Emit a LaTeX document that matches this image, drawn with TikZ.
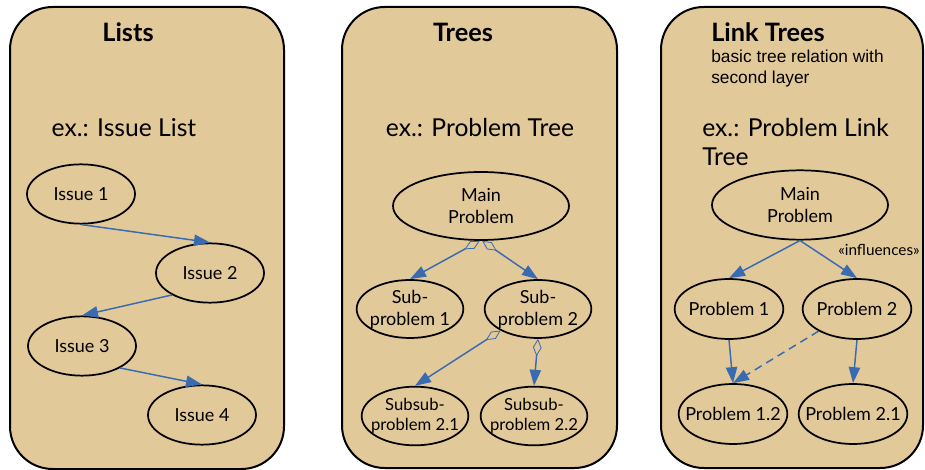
\documentclass[tikz,border=0pt]{standalone}
\usepackage{fontspec}
\setmainfont{Lato}
\newfontfamily\notefont{Liberation Sans}
\usetikzlibrary{shapes.geometric,arrows.meta}
\definecolor{paneltan}{RGB}{226,201,153}
\definecolor{linkblue}{RGB}{58,107,176}
\tikzset{
  panel/.style={draw=black, line width=1.5pt, fill=paneltan, rounded corners=32pt, inner sep=0pt},
  elli/.style={ellipse, draw=black, line width=1.3pt, inner sep=0pt},
  lbl/.style={align=center, inner sep=0pt, font=\fontsize{13.5}{16.5}\selectfont},
  lblsmall/.style={align=center, inner sep=0pt, font=\fontsize{12.5}{15}\selectfont},
  conn/.style={draw=linkblue, line width=1.1pt, -{Triangle[length=12pt,width=8.5pt]}},
  agg/.style={draw=linkblue, line width=1.1pt, {Diamond[open,length=13pt,width=6.5pt,line width=0.6pt]}-{Triangle[length=12pt,width=8.5pt]}},
  title/.style={inner sep=0pt, font=\fontsize{19}{22}\selectfont\bfseries},
  example/.style={inner sep=0pt, align=left, font=\fontsize{18.5}{21.75}\selectfont},
  note/.style={inner sep=0pt, align=left, font=\notefont\fontsize{13}{15.75}\selectfont},
  stereo/.style={inner sep=0pt, font=\fontsize{11.5}{14}\selectfont},
}
\begin{document}
\begin{tikzpicture}[x=0.75pt,y=-0.75pt]
\useasboundingbox (0,0) rectangle (925,470);
% panels
\node[panel, minimum width=205.5pt, minimum height=346.5pt] (pan1) at (147,238) {};
\node[panel, minimum width=206.25pt, minimum height=345.75pt] (pan2) at (479.5,237.5) {};
\node[panel, minimum width=196.5pt, minimum height=345.75pt] (pan3) at (792,237.5) {};
% panel 1
\node[title] (t1) at (128,32) {Lists};
\node[example] (ex1) at (124,128) {ex.: Issue List};
\node[elli, minimum width=81pt, minimum height=44.5pt, label={[lbl]center:Issue 1}] (i1) at (81,194) {};
\node[elli, minimum width=81pt, minimum height=44.5pt, label={[lbl]center:Issue 2}] (i2) at (210,273) {};
\node[elli, minimum width=81pt, minimum height=44.5pt, label={[lbl]center:Issue 3}] (i3) at (82,346) {};
\node[elli, minimum width=81pt, minimum height=44.5pt, label={[lbl]center:Issue 4}] (i4) at (202,415) {};
\draw[conn] (i1.south) -- (i2.north);
\draw[conn] (i2.210) -- (i3.north);
\draw[conn] (i3.330) -- (i4.north);
% panel 2
\node[title] (t2) at (463,32) {Trees};
\node[example] (ex2) at (480,128) {ex.: Problem Tree};
\node[elli, minimum width=132pt, minimum height=51pt, label={[lbl]center:Main\\Problem}] (m2) at (481,206) {};
\node[elli, minimum width=80pt, minimum height=43.5pt, label={[lbl]center:Sub-\\problem 1}] (s1) at (410,309) {};
\node[elli, minimum width=80pt, minimum height=43.5pt, label={[lbl]center:Sub-\\problem 2}] (s2) at (538,309) {};
\node[elli, minimum width=80pt, minimum height=44pt, label={[lblsmall]center:Subsub-\\problem 2.1}] (ss1) at (415,416) {};
\node[elli, minimum width=80pt, minimum height=44pt, label={[lblsmall]center:Subsub-\\problem 2.2}] (ss2) at (534,416) {};
\draw[agg] (m2.268) -- (s1.north);
\draw[agg] (m2.272) -- (s2.north);
\draw[agg] (s2.210) -- (ss1.north);
\draw[agg] (s2.south) -- (ss2.north);
% panel 3
\node[title, anchor=west] (t3) at (711,32) {Link Trees};
\node[note, anchor=west] (n3) at (711,68.5) {basic tree relation with\\second layer};
\node[example, anchor=west] (ex3) at (702,142.5) {ex.: Problem Link\\Tree};
\node[elli, minimum width=132pt, minimum height=52pt, label={[lbl]center:Main\\Problem}] (m3) at (800,205) {};
\node[elli, minimum width=81.5pt, minimum height=45pt, label={[lbl]center:Problem 1}] (p1) at (729,309) {};
\node[elli, minimum width=81.5pt, minimum height=45pt, label={[lbl]center:Problem 2}] (p2) at (857,309) {};
\node[elli, minimum width=81.5pt, minimum height=45pt, label={[lbl]center:Problem 1.2}] (p12) at (733,414) {};
\node[elli, minimum width=81.5pt, minimum height=45pt, label={[lbl]center:Problem 2.1}] (p21) at (853,414) {};
\node[stereo] (infl) at (879,250) {«influences»};
\draw[conn] (m3.south) -- (p1.north);
\draw[conn] (m3.south) -- (p2.north);
\draw[conn] (p1.south) -- (p12.north);
\draw[conn] (p2.south) -- (p21.north);
\draw[conn, dash pattern=on 6pt off 4pt] (p2.210) -- (p12.north);
\end{tikzpicture}
\end{document}
